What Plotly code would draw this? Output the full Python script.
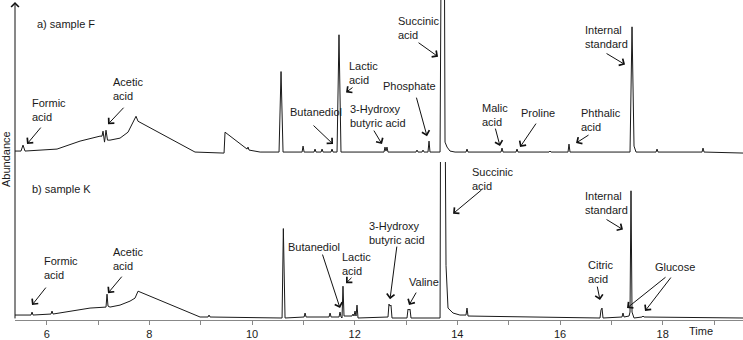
import plotly.graph_objects as go

# ---------------- data ----------------
# a) sample F : retention time (min) and abundance (arbitrary units)
f_time = [5.382, 5.499, 5.538, 5.577, 6.201, 6.649, 7.038, 7.077, 7.097, 7.126, 7.155, 7.184,
          7.233, 7.428, 7.584, 7.681, 7.740, 7.779, 8.889, 9.435, 9.455, 9.474, 9.903, 9.922,
          9.942, 10.157, 10.526, 10.565, 10.604, 10.975, 10.994, 11.014, 11.208, 11.227, 11.247,
          11.345, 11.364, 11.384, 11.539, 11.558, 11.578, 11.656, 11.694, 11.733, 12.571, 12.590,
          12.610, 12.629, 12.649, 13.195, 13.214, 13.234, 13.312, 13.331, 13.351, 13.428, 13.448,
          13.467, 13.663, 13.696, 13.740, 13.760, 13.799, 13.857, 13.955, 14.169, 14.188, 14.208,
          14.851, 14.870, 14.890, 15.143, 15.162, 15.182, 15.786, 15.805, 15.825, 16.156, 16.175,
          16.195, 17.364, 17.403, 17.442, 17.481, 17.871, 17.890, 17.910, 18.767, 18.786, 18.806,
          19.565]
f_abund = [6, 6, 12, 6, 8, 16, 21, 21, 26, 15, 27, 17,
           17, 19, 25, 35, 41, 36, 5, 4, 4, 25, 8, 10,
           7, 5, 5, 86, 5, 5, 11, 5, 5, 8, 5,
           5, 8, 5, 5, 8, 5, 5, 123, 5, 5, 10,
           6, 10, 5, 5, 7, 5, 5, 7, 5, 5, 16,
           5, 5, 320, 320, 15, 10, 6, 5, 5, 8, 5,
           5, 9, 5, 5, 8, 5, 5, 6, 5, 5, 13,
           5, 5, 131, 11, 5, 5, 8, 5, 5, 9, 5,
           4]

# b) sample K
k_time = [5.382, 5.694, 5.714, 5.733, 6.084, 6.103, 6.123, 6.844, 7.155, 7.175, 7.194, 7.233,
          7.428, 7.623, 7.720, 7.779, 8.987, 9.143, 9.162, 9.182, 10.585, 10.610, 10.643, 11.014,
          11.033, 11.053, 11.500, 11.520, 11.540, 11.695, 11.714, 11.734, 11.753, 11.772, 11.792,
          11.947, 11.967, 11.987, 12.006, 12.026, 12.045, 12.065, 12.649, 12.668, 12.688, 12.707,
          12.727, 13.019, 13.039, 13.058, 13.078, 13.097, 13.663, 13.682, 13.740, 13.760, 13.779,
          13.818, 13.916, 14.050, 14.169, 14.188, 14.208, 16.779, 16.798, 16.818, 16.838, 17.208,
          17.227, 17.247, 17.345, 17.364, 17.383, 17.403, 17.442, 17.598, 17.617, 17.637, 19.565]
k_abund = [5, 5, 8, 5, 6, 9, 6, 12, 13, 26, 14, 13,
           15, 19, 22, 29, 3, 3, 5, 3, 2, 92, 2, 3,
           7, 3, 3, 7, 3, 3, 8, 3, 2, 34, 4,
           4, 6, 4, 9, 4, 15, 2, 3, 16, 14, 15,
           2, 2, 11, 10, 11, 2, 2, 400, 400, 122, 55,
           12, 7, 5, 5, 12, 4, 2, 10, 12, 2, 3,
           7, 3, 4, 8, 130, 8, 2, 3, 4, 3, 2]

time_ticks = [6, 7, 8, 9, 10, 11, 12, 13, 14, 15, 16, 17, 18, 19]
time_tick_labels = ["6", "", "8", "", "10", "", "12", "", "14", "", "16", "", "18", ""]

# compound labels: text, text x/y, arrow head x/y, arrow tail offset (px)
f_labels = [
    ("Formic<br>acid", 5.675, 47.5, 5.616, 13, 15, -18),
    ("Acetic<br>acid", 7.253, 68, 7.194, 33, 17, -18),
    ("Butanediol", 10.701, 45, 11.578, 13, -21, -20),
    ("Lactic<br>acid", 11.850, 84.5, 11.831, 65, 8, -6),
    ("3-Hydroxy<br>butyric acid", 11.870, 41.5, 12.532, 13, -9, -15),
    ("Phosphate", 12.513, 71, 13.409, 21, -11, -40),
    ("Succinic<br>acid", 12.806, 130, 13.624, 101, -21, -15),
    ("Malic<br>acid", 14.442, 42, 14.831, 11, -5, -19),
    ("Proline", 15.202, 44, 15.221, 10, 17, -25),
    ("Phthalic<br>acid", 16.371, 37, 16.312, 14, 14, -9),
    ("Internal<br>standard", 16.449, 120.5, 17.267, 93, -20, -12),
]
k_labels = [
    ("Formic<br>acid", 5.908, 52, 5.714, 15, 15, -19),
    ("Acetic<br>acid", 7.253, 61, 7.194, 27, 15, -18),
    ("Butanediol", 10.662, 73, 11.714, 12, -18, -55),
    ("Lactic<br>acid", 11.714, 56.5, 11.831, 37, 7, -7),
    ("3-Hydroxy<br>butyric acid", 12.240, 88, 12.688, 21, 7, -54),
    ("Valine", 13.019, 38, 13.058, 15, 8, -14),
    ("Succinic<br>acid", 14.247, 142, 13.916, 107, 30, -25),
    ("Internal<br>standard", 16.449, 118, 17.227, 91, -18, -11),
    ("Citric<br>acid", 16.507, 48.5, 16.779, 20, -3, -15),
    ("Glucose", 17.812, 53, 17.305, 12, 40, -32),
]
k_extra_arrows = [(17.656, 9, 27, -35)]  # second Glucose arrow

FONT = "Liberation Sans, Arial, Helvetica, sans-serif"
TXT = "#1a1a1a"
LINE = "#1a1a1a"

fig = go.Figure()
fig.add_trace(go.Scatter(x=f_time, y=f_abund, mode="lines", xaxis="x", yaxis="y2",
                         line=dict(color=LINE, width=1), hoverinfo="skip"))
fig.add_trace(go.Scatter(x=k_time, y=k_abund, mode="lines", xaxis="x", yaxis="y",
                         line=dict(color=LINE, width=1), hoverinfo="skip"))

ann = []


def label(text, tx, ty, hx, hy, ax, ay, yref):
    ann.append(dict(text=text, x=tx, y=ty, xref="x", yref=yref, showarrow=False,
                    xanchor="left", yanchor="middle", align="left",
                    font=dict(family=FONT, size=11, color=TXT)))
    ann.append(dict(text="", x=hx, y=hy, xref="x", yref=yref, showarrow=True,
                    ax=ax, ay=ay, arrowhead=4, arrowsize=1.5, arrowwidth=1,
                    arrowcolor="#111"))


for lab in f_labels:
    label(*lab, "y2")
for lab in k_labels:
    label(*lab, "y")
for hx, hy, ax, ay in k_extra_arrows:
    ann.append(dict(text="", x=hx, y=hy, xref="x", yref="y", showarrow=True,
                    ax=ax, ay=ay, arrowhead=4, arrowsize=1.5, arrowwidth=1,
                    arrowcolor="#111"))

# panel titles
ann.append(dict(text="a) sample F", x=5.772, y=134, xref="x", yref="y2", showarrow=False,
                xanchor="left", yanchor="middle", font=dict(family=FONT, size=11, color=TXT)))
ann.append(dict(text="b) sample K", x=5.675, y=132, xref="x", yref="y", showarrow=False,
                xanchor="left", yanchor="middle", font=dict(family=FONT, size=11, color=TXT)))
# axis titles
ann.append(dict(text="Time", x=18.474, y=-0.034, xref="x", yref="paper", showarrow=False,
                xanchor="left", yanchor="middle", font=dict(family=FONT, size=11, color=TXT)))
ann.append(dict(text="Abundance", x=-0.0124, y=0.503, xref="paper", yref="paper",
                showarrow=False, textangle=-90, xanchor="center", yanchor="middle",
                font=dict(family=FONT, size=11, color=TXT)))
# vertical axis with arrow
ann.append(dict(text="", x=0, y=0.994, xref="paper", yref="paper", showarrow=True,
                ax=0, ay=318, arrowhead=4, arrowsize=1.5, arrowwidth=1, arrowcolor="#111"))

fig.update_layout(
    width=743, height=340,
    margin=dict(l=15, r=0, t=0, b=18),
    plot_bgcolor="white", paper_bgcolor="white",
    showlegend=False,
    annotations=ann,
    xaxis=dict(range=[5.382, 19.565], tickvals=time_ticks, ticktext=time_tick_labels,
               ticks="outside", ticklen=4, tickcolor="#888", showline=True,
               linecolor="#888", linewidth=1, showgrid=False, zeroline=False,
               tickfont=dict(family=FONT, size=11, color=TXT), anchor="y"),
    yaxis=dict(domain=[0, 0.4938], range=[0, 159], visible=False, fixedrange=True),
    yaxis2=dict(domain=[0.5093, 1], range=[0, 158], visible=False, anchor="x"),
)

fig.write_html(
    "out.html",
    config={"displayModeBar": False, "staticPlot": True},
    post_script="document.body.style.margin='0';document.body.style.overflow='hidden';",
)
